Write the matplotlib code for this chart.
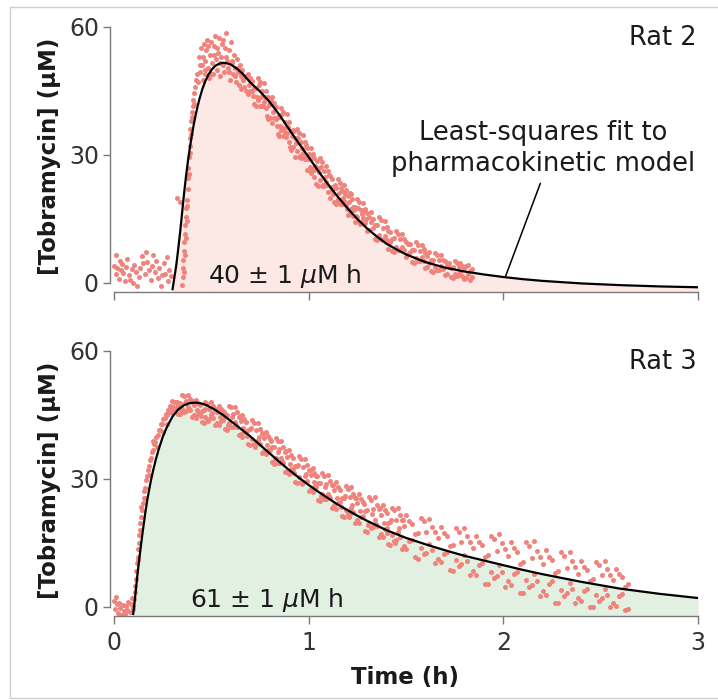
import matplotlib
matplotlib.use("Agg")
import matplotlib.pyplot as plt
import matplotlib.patches as mpatches
import numpy as np

plt.rcParams['font.family'] = ['DejaVu Sans']

# ---------------- Rat 2 data ----------------
rat2_base_t = [0.000,0.008,0.012,0.018,0.024,0.030,0.036,0.042,0.048,0.055,0.062,0.068,0.075,0.082,0.090,0.097,0.105,0.112,0.120,0.128,
               0.135,0.142,0.150,0.158,0.165,0.172,0.180,0.188,0.195,0.202,0.210,0.218,0.225,0.232,0.240,0.248,0.255,0.262,0.270,0.278,0.285,0.292]
rat2_base_c = [4.0,6.5,2.2,3.6,1.0,5.2,3.0,4.4,2.4,0.4,3.8,5.6,1.8,0.8,3.2,0.0,4.2,2.6,-0.6,1.4,
               3.6,6.4,4.6,2.0,7.2,5.0,3.0,0.6,4.0,6.6,2.6,5.2,1.2,3.4,-0.8,1.8,4.8,2.2,6.0,0.4,3.0,1.6]
rat2_rise_t = [0.326,0.338,0.350,0.352,0.355,0.357,0.360,0.362,0.365,0.367,0.370,0.372,0.375,0.378,0.380,0.382,0.385,0.388,0.390,0.393,
               0.396,0.400,0.404,0.408,0.412,0.416,0.420,0.425,
               0.358,0.363,0.368,0.373,0.377,0.383,0.389,0.395,0.402,0.410]
rat2_rise_c = [20.0,19.0,-0.5,1.5,3.5,5.5,7.5,9.5,11.5,13.5,15.5,17.5,19.5,22.0,24.5,27.0,29.5,32.0,34.0,36.0,
               38.0,40.0,41.5,43.0,44.5,46.0,47.5,49.0,
               2.5,6.5,10.5,14.5,18.0,25.5,30.5,35.0,39.0,42.0]
rat2_peak_t = [0.430,0.435,0.440,0.445,0.450,0.455,0.460,0.465,0.470,0.475,0.480,0.485,0.490,0.495,0.500,0.505,0.510,0.515,0.520,0.525,
               0.530,0.535,0.540,0.545,0.550,0.555,0.560,0.565,0.570,0.575,0.580,0.585,0.590,0.595,0.600,0.605,0.610,0.615,0.620,0.625,
               0.630,0.635,0.640,0.645,0.650,0.655,0.660,0.665,0.670,0.675,0.680,
               0.440,0.455,0.470,0.485,0.500,0.515,0.530,0.545,0.560,0.575,0.590,0.605,0.620,0.635,0.650,0.665]
rat2_peak_c = [47.0,53.0,49.5,55.0,51.0,47.5,56.0,52.0,49.0,54.5,57.0,50.5,48.0,53.5,56.5,51.5,49.0,55.5,58.0,52.5,
               50.0,54.0,57.5,48.5,53.0,56.0,51.0,49.5,55.0,58.5,52.0,50.5,54.5,47.5,56.5,51.5,49.0,53.5,50.5,47.0,
               52.5,49.5,46.5,51.0,48.5,45.5,50.0,47.5,46.0,48.5,45.0,
               51.0,53.0,50.0,55.5,49.0,53.5,55.0,51.5,57.0,53.0,49.5,52.0,48.5,50.5,49.5,47.5]
rat2_dec_t = [0.69,0.70,0.71,0.72,0.73,0.74,0.75,0.76,0.77,0.78,0.79,0.80,0.81,0.82,0.83,0.84,0.85,0.86,0.87,0.88,
              0.89,0.90,0.91,0.92,0.93,0.94,0.95,0.96,0.97,0.98,0.99,1.00,1.01,1.02,1.03,1.04,1.05,1.06,1.07,1.08,
              1.09,1.10,1.11,1.12,1.13,1.14,1.15,1.16,1.17,1.18,1.19,1.20,1.21,1.22,1.23,1.24,1.25,1.26,1.27,1.28,
              1.29,1.30,1.31,1.32,1.33,1.34,1.35,1.36,1.37,1.38,1.39,1.40,1.41,1.42,1.43,1.44,1.45,1.46,1.47,1.48,
              1.49,1.50,1.51,1.52,1.53,1.54,1.55,1.56,1.57,1.58,1.59,1.60,1.61,1.62,1.63,1.64,1.65,1.66,1.67,1.68,
              1.69,1.70,1.71,1.72,1.73,1.74,1.75,1.76,1.77,1.78,1.79,1.80,1.81,1.82,1.83,1.84]
rat2_dec_ca = [49.1,45.1,47.4,42.0,45.6,48.0,41.6,45.0,42.4,45.0,38.4,42.2,43.6,38.6,41.2,35.0,38.8,41.0,34.4,37.8,
               35.2,37.8,31.2,35.8,34.0,36.2,29.6,33.0,30.4,33.0,26.4,30.2,31.6,26.7,29.3,23.3,27.0,29.2,22.8,26.2,
               23.7,26.3,20.0,24.3,18.9,22.3,24.3,18.6,21.6,19.3,21.7,15.9,21.0,20.9,15.6,17.8,19.7,14.4,17.2,15.2,
               17.4,12.1,15.4,16.6,14.9,10.4,13.5,15.4,10.2,13.0,11.1,13.1,8.0,11.9,7.5,10.5,12.1,7.7,10.2,8.5,
               10.4,6.0,9.1,9.1,5.0,7.8,9.5,5.1,7.6,6.0,7.9,3.6,6.4,7.3,2.8,5.5,7.1,3.0,5.3,4.0,
               5.5,1.8,4.3,4.6,1.4,3.7,5.1,1.6,3.8,2.6,4.0,0.9,3.9,2.2,0.6,3.3]
rat2_dec_cb = [44.4,48.1,45.0,45.6,41.5,42.8,47.2,41.4,46.8,41.0,43.6,38.6,37.6,42.2,38.4,39.0,34.4,35.8,40.0,35.4,
               39.6,33.0,35.6,31.8,29.6,31.0,35.2,29.4,34.8,29.0,31.6,26.6,25.7,30.2,26.6,27.2,22.8,24.1,28.3,22.8,
               27.5,21.4,25.1,21.9,22.4,18.5,19.7,23.5,18.5,23.0,18.2,20.4,16.4,17.4,17.9,14.2,15.4,19.0,14.3,18.8,
               14.1,16.4,12.5,14.3,12.9,13.6,10.0,11.2,14.7,10.1,14.6,10.1,12.2,9.6,10.4,7.2,8.4,11.6,7.7,11.6,
               7.7,9.6,6.7,7.2,7.8,4.8,5.9,8.9,5.1,9.0,5.2,7.1,3.7,4.8,5.4,2.6,3.7,6.5,3.1,6.6,
               3.3,5.1,2.0,3.8,3.6,1.2,2.2,4.8,1.9,4.7,1.7,3.5,1.2,4.3,2.9,1.5]
rat2_mid_t = [0.695,0.705,0.715,0.725,0.735,0.745,0.755,0.765,0.775,0.785,0.795,0.805,0.815,0.825,0.835,0.845,0.855,0.865,0.875,0.885,
              0.895,0.905,0.915,0.925,0.935,0.945,0.955,0.965,0.975,0.985,0.995,1.005,1.015,1.025,1.035,1.045,1.055,1.065,1.075,1.085,
              1.095,1.105,1.115,1.125,1.135,1.145,1.155,1.165,1.175,1.185,1.195,1.205,1.215,1.225,1.235,1.245,1.255,1.265,1.275,1.285,1.295]
rat2_mid_c = [46.4,47.4,43.8,45.6,43.7,46.5,43.5,41.5,43.7,39.1,41.7,42.9,40.1,41.3,36.9,38.9,36.7,39.5,36.3,34.3,
              36.5,31.9,34.5,35.7,32.9,34.1,29.7,31.7,29.5,32.3,29.1,27.1,29.4,24.8,27.5,28.6,26.0,27.1,23.0,24.9,
              22.9,25.4,22.6,20.9,22.9,19.0,21.2,22.3,20.0,20.9,17.4,19.0,17.3,19.7,17.2,15.6,17.5,13.9,16.1,17.1,15.0]
rat2_fit_t = [0.300,0.310,0.320,0.330,0.340,0.350,0.360,0.370,0.380,0.390,0.400,0.410,0.420,0.430,0.440,0.455,0.470,0.485,0.500,0.520,
              0.540,0.560,0.580,0.600,0.630,0.660,0.700,0.750,0.800,0.850,0.900,0.950,1.000,1.050,1.100,1.150,1.200,1.250,1.300,1.350,
              1.400,1.450,1.500,1.600,1.700,1.800,1.900,2.000,2.100,2.200,2.400,2.600,2.800,3.000]
rat2_fit_c = [-1.7,1.2,4.2,8.0,12.0,16.5,21.0,25.0,28.6,31.8,34.6,37.2,39.5,41.5,43.3,45.6,47.4,48.8,49.9,50.9,
              51.4,51.6,51.5,51.2,50.3,49.1,47.0,44.9,42.4,39.4,36.0,32.7,29.5,26.2,23.1,20.2,17.5,15.0,12.8,10.9,
              9.2,7.9,6.7,4.9,3.6,2.7,2.0,1.4,0.9,0.5,-0.1,-0.5,-0.8,-1.0]

# ---------------- Rat 3 data ----------------
rat3_base_t = [0.000,0.006,0.010,0.015,0.020,0.026,0.032,0.038,0.044,0.050,0.056,0.062,0.068,0.074,0.080,0.086,0.092,0.097]
rat3_base_c = [1.5,-0.5,2.4,0.6,-1.4,1.0,-0.2,-1.8,0.4,-1.0,-1.6,0.2,-0.6,1.2,-1.2,0.8,2.0,-0.4]
rat3_rise_t = [0.100,0.103,0.106,0.109,0.112,0.115,0.118,0.121,0.124,0.127,0.130,0.133,0.136,0.140,0.144,0.148,0.152,0.156,0.160,0.165,
               0.170,0.175,0.180,0.185,0.190,0.195,0.200,0.206,0.212,0.218,0.224,0.230,0.236,0.242,0.248,0.254,0.260,0.266,0.272,0.278,
               0.284,0.290,0.296,
               0.125,0.140,0.160,0.180,0.200,0.220,0.250,0.270]
rat3_rise_c = [0.3,1.8,3.4,5.0,6.6,8.4,10.2,11.8,13.6,15.0,16.8,18.0,19.6,21.0,22.8,24.4,25.6,27.2,28.0,29.8,
               30.6,32.2,33.0,34.4,35.0,36.3,36.8,38.1,38.6,39.8,40.2,41.4,41.6,42.8,43.0,44.1,44.3,45.3,45.0,46.2,
               45.8,47.0,46.4,
               11.0,23.5,25.5,31.0,39.0,37.5,41.0,43.0]
rat3_dec1_t = [0.30,0.31,0.32,0.33,0.34,0.35,0.36,0.37,0.38,0.39,0.40,0.41,0.42,0.43,0.44,0.45,0.46,0.47,0.48,0.49,
               0.50,0.51,0.52,0.53,0.54,0.55,0.56,0.57,0.58,0.59,0.60,0.61,0.62,0.63,0.64,0.65,0.66,0.67,0.68,0.69,
               0.70,0.71,0.72,0.73,0.74,0.75,0.76,0.77,0.78,0.79,0.80,0.81,0.82,0.83,0.84,0.85,0.86,0.87,0.88,0.89,
               0.90,0.91,0.92,0.93,0.94,0.95,0.96,0.97,0.98,0.99,1.00,1.01,1.02,1.03,1.04,1.05,1.06,1.07,1.08,1.09,
               1.10,1.11,1.12,1.13,1.14,1.15,1.16,1.17,1.18,1.19,1.20,1.21,1.22,1.23,1.24,1.25,1.26,1.27,1.28,1.29,
               1.30,1.31,1.32,1.33,1.34,1.35,1.36,1.37,1.38,1.39,1.40,1.41,1.42,1.43,1.44,1.45,1.46,1.47,1.48,1.49,1.50]
rat3_dec1_ca = [48.2,46.3,48.1,45.2,47.8,49.8,45.8,48.2,46.8,48.8,44.5,47.4,48.6,45.3,47.3,43.3,46.2,48.0,43.8,46.4,
                45.0,47.1,42.7,45.6,47.0,43.6,46.0,41.7,45.0,47.1,42.3,45.2,43.3,45.6,40.3,43.6,45.0,40.9,43.4,38.2,
                41.7,43.8,38.2,41.4,39.2,41.7,36.1,39.6,41.0,36.8,39.3,34.0,37.5,39.6,33.8,37.0,34.9,37.5,31.6,35.2,
                36.8,32.3,35.0,29.3,33.1,35.4,29.4,32.8,30.6,33.2,27.3,31.0,32.6,28.1,30.8,25.1,29.1,31.4,25.3,28.9,
                26.6,29.5,23.3,27.4,29.2,24.4,27.4,21.4,25.6,28.3,21.7,25.7,23.3,26.5,19.7,24.4,26.4,21.1,24.6,17.8,
                22.7,25.8,18.4,23.0,20.4,24.0,16.5,21.6,23.9,18.2,22.0,14.8,20.0,23.3,15.5,20.4,17.6,21.5,13.5,19.0,21.5]
rat3_dec1_cb = [45.5,48.0,46.6,47.4,45.2,46.5,49.4,45.9,49.7,46.1,48.1,44.9,44.4,47.8,45.4,46.0,43.2,44.5,47.6,44.0,
                48.0,44.3,46.4,43.1,42.6,46.3,43.9,44.7,41.6,43.1,46.9,42.2,46.9,42.3,44.6,40.6,39.9,44.0,41.0,41.6,
                37.9,39.3,43.1,38.2,43.1,38.2,40.7,36.5,35.8,40.0,36.8,37.5,33.6,35.0,38.9,33.8,38.9,33.8,36.3,31.9,
                31.1,35.6,32.3,33.1,29.0,30.5,34.7,29.4,34.7,29.5,32.1,27.6,26.9,31.5,28.1,29.0,24.8,26.4,30.8,25.3,
                31.0,25.5,28.5,23.8,23.0,28.1,24.5,25.5,21.0,22.8,27.7,21.9,28.1,22.2,25.5,20.3,19.6,25.3,21.3,22.5,
                17.5,19.6,25.1,18.7,25.7,19.1,22.9,17.2,16.5,22.7,18.5,19.8,14.5,16.8,22.7,15.8,23.2,16.3,20.3,14.3,13.6]
rat3_mid_t = [0.305,0.325,0.345,0.365,0.385,0.405,0.425,0.445,0.465,0.485,0.505,0.525,0.545,0.565,0.585,0.605,0.625,0.645,0.665,0.685,
              0.705,0.725,0.745,0.765,0.785,0.805,0.825,0.845,0.865,0.885,0.905,0.925,0.945,0.965,0.985,1.005,1.025,1.045,1.065,1.085,
              1.105,1.125,1.145,1.165,1.185,1.205,1.225,1.245,1.265,1.285,1.305,1.325,1.345,1.365,1.385,1.405,1.425,1.445,1.465,1.485]
rat3_mid_c = [46.8,48.0,46.2,47.7,46.3,48.3,46.1,44.8,46.4,43.5,45.5,46.5,44.6,45.8,42.7,44.6,42.6,44.8,41.9,40.1,
              41.9,37.6,39.8,40.6,38.0,38.9,34.8,36.3,34.2,36.5,33.4,31.4,33.3,28.9,31.2,32.2,29.4,30.6,26.1,28.1,
              25.9,28.7,25.6,23.5,26.0,21.1,24.0,25.5,22.6,24.2,19.2,21.9,19.5,23.2,19.6,17.4,20.4,14.9,18.5,20.5]
rat3_dec2_t = [1.515,1.530,1.545,1.560,1.575,1.590,1.605,1.620,1.635,1.650,1.665,1.680,1.695,1.710,1.725,1.740,1.755,1.770,1.785,1.800,
               1.815,1.830,1.845,1.860,1.875,1.890,1.905,1.920,1.935,1.950,1.965,1.980,1.995,2.010,2.025,2.040,2.055,2.070,2.085,2.100,
               2.115,2.130,2.145,2.160,2.175,2.190,2.205,2.220,2.235,2.250,2.265,2.280,2.295,2.310,2.325,2.340,2.355,2.370,2.385,2.400,
               2.415,2.430,2.445,2.460,2.475,2.490,2.505,2.520,2.535,2.550,2.565,2.580,2.595,2.610,2.625,2.640]
rat3_dec2_ca = [15.4,19.4,11.7,17.3,20.9,12.4,17.6,14.7,18.8,10.4,16.2,18.7,12.4,16.6,8.7,14.6,18.4,9.7,15.2,12.2,
                16.6,7.6,13.9,16.7,9.8,14.5,5.5,12.3,16.7,6.9,13.2,9.8,15.0,4.8,12.0,15.2,7.7,12.9,3.3,10.6,
                15.2,4.8,11.5,7.8,13.2,2.6,10.1,13.4,5.5,10.9,1.0,8.4,12.9,2.6,9.2,5.7,10.8,0.9,7.8,10.8,
                3.8,8.6,-0.1,6.5,10.6,1.5,7.4,4.2,8.8,-0.1,6.3,9.0,2.6,7.1,-0.7,5.3]
rat3_dec2_cb = [20.2,15.7,17.0,11.3,13.8,20.1,12.7,20.7,13.3,17.5,11.2,10.5,17.4,12.8,14.3,8.5,11.0,17.6,10.1,18.5,
                10.7,15.3,8.5,7.6,15.3,10.2,11.8,5.3,8.3,16.0,7.3,17.1,8.3,13.5,6.0,5.1,13.8,8.2,10.1,3.2,
                6.3,14.4,5.2,15.4,6.2,11.7,3.8,2.9,11.7,6.0,7.9,0.9,4.1,12.0,3.2,12.9,4.3,9.3,2.1,1.4,
                9.4,4.3,6.0,-0.1,2.8,9.9,2.0,10.8,2.9,7.5,1.0,0.3,7.7,3.1,4.8,-0.5]
rat3_fit_t = [0.098,0.105,0.110,0.115,0.120,0.125,0.130,0.140,0.150,0.160,0.170,0.180,0.190,0.200,0.215,0.230,0.250,0.270,0.300,0.330,
              0.360,0.390,0.420,0.450,0.480,0.520,0.560,0.600,0.650,0.700,0.750,0.800,0.850,0.900,0.950,1.000,1.050,1.100,1.150,1.200,
              1.250,1.300,1.400,1.500,1.600,1.700,1.800,1.900,2.000,2.100,2.200,2.300,2.400,2.500,2.600,2.700,2.800,2.900,3.000]
rat3_fit_c = [-1.9,0.8,3.0,5.2,7.4,9.4,11.3,15.0,18.5,21.8,24.8,27.4,29.7,31.8,34.6,37.0,39.8,42.0,44.6,46.3,
              47.3,47.8,47.9,47.7,47.2,46.2,45.0,43.6,41.8,40.0,38.0,36.0,34.0,32.1,30.3,28.6,27.0,25.5,24.0,22.7,
              21.4,20.2,18.0,16.2,14.7,13.3,12.0,10.9,9.8,8.7,7.7,6.8,5.9,5.1,4.3,3.7,3.1,2.6,2.1]

x_ticks = [0, 1, 2, 3]
y_ticks = [0, 30, 60]
auc_labels = ['40 \u00b1 1 $\\mu$M h', '61 \u00b1 1 $\\mu$M h']
rat_labels = ['Rat 2', 'Rat 3']

DOT = '#F0837C'
FILL_TOP = '#FCE8E4'
FILL_BOT = '#E2F0E1'
SPINE = '#7a7a7a'
TXT = '#1a1a1a'

W, H = 718, 700
fig = plt.figure(figsize=(W / 100, H / 100), dpi=100)

YLO, YHI = -2.11, 61.64
XLO, XHI = -0.0205, 3.0103

def px_axes(left, top, right, bottom):
    return fig.add_axes([left / W, 1 - bottom / H, (right - left) / W, (bottom - top) / H])

ax1 = px_axes(110, 20, 700, 292)
ax2 = px_axes(110, 344, 700, 616)

panels = [
    (ax1, [rat2_base_t, rat2_rise_t, rat2_peak_t, rat2_dec_t, rat2_dec_t, rat2_mid_t],
          [rat2_base_c, rat2_rise_c, rat2_peak_c, rat2_dec_ca, rat2_dec_cb, rat2_mid_c],
          rat2_fit_t, rat2_fit_c, FILL_TOP),
    (ax2, [rat3_base_t, rat3_rise_t, rat3_dec1_t, rat3_dec1_t, rat3_mid_t, rat3_dec2_t, rat3_dec2_t],
          [rat3_base_c, rat3_rise_c, rat3_dec1_ca, rat3_dec1_cb, rat3_mid_c, rat3_dec2_ca, rat3_dec2_cb],
          rat3_fit_t, rat3_fit_c, FILL_BOT),
]

for i, (ax, ts, cs, ft, fc, fillc) in enumerate(panels):
    ax.set_xlim(XLO, XHI)
    ax.set_ylim(YLO, YHI)
    ax.fill_between(ft, fc, YLO, color=fillc, lw=0, zorder=1)
    t_all = np.concatenate([np.asarray(a, float) for a in ts])
    c_all = np.concatenate([np.asarray(a, float) for a in cs])
    ax.scatter(t_all, c_all, s=13, color=DOT, linewidths=0, zorder=2)
    ax.plot(ft, fc, color='black', lw=1.6, zorder=3, solid_capstyle='butt')

    for s in ['top', 'right']:
        ax.spines[s].set_visible(False)
    ax.spines['left'].set_bounds(0, 60)
    ax.spines['bottom'].set_bounds(0, 3)
    for s in ['left', 'bottom']:
        ax.spines[s].set_color(SPINE)
        ax.spines[s].set_linewidth(1.0)
    ax.set_yticks(y_ticks)
    ax.set_xticks(x_ticks)
    ax.tick_params(axis='y', direction='out', length=5, width=1.0, color=SPINE,
                   labelsize=17, labelcolor='#333333', pad=3)
    ax.tick_params(axis='x', direction='out', length=6, width=1.0, color=SPINE,
                   labelsize=17, labelcolor='#333333', pad=5)
    ax.set_ylabel('[Tobramycin] (\u03bcM)', fontsize=16.5, fontweight='bold', color=TXT, labelpad=6)
    ax.patch.set_alpha(0)

    ax.text(0.995, 0.98, rat_labels[i], transform=ax.transAxes, ha='right', va='top',
            fontsize=18.5, color=TXT)

ax1.tick_params(axis='x', labelbottom=False)
ax2.set_xlabel('Time (h)', fontsize=16.5, fontweight='bold', color=TXT, labelpad=8)

ax1.text(0.483, 0.0, auc_labels[0], ha='left', va='baseline', fontsize=18, color=TXT, zorder=4)
ax2.text(0.39, 0.0, auc_labels[1], ha='left', va='baseline', fontsize=18, color=TXT, zorder=4)

ax1.annotate('Least-squares fit to\npharmacokinetic model', xy=(2.01, 1.4), xytext=(2.203, 31.6),
             ha='center', va='center', fontsize=18.5, color=TXT, linespacing=1.25,
             arrowprops=dict(arrowstyle='-', color='black', lw=1.1, relpos=(0.5, 0.0),
                             shrinkA=3, shrinkB=0))

fig.patches.append(mpatches.Rectangle((10 / W, 2 / H), 1.2, 1 - 9 / H, transform=fig.transFigure,
                                      fill=False, edgecolor='#cfcfcf', lw=1.0))

fig.savefig('out.png', dpi=100)
